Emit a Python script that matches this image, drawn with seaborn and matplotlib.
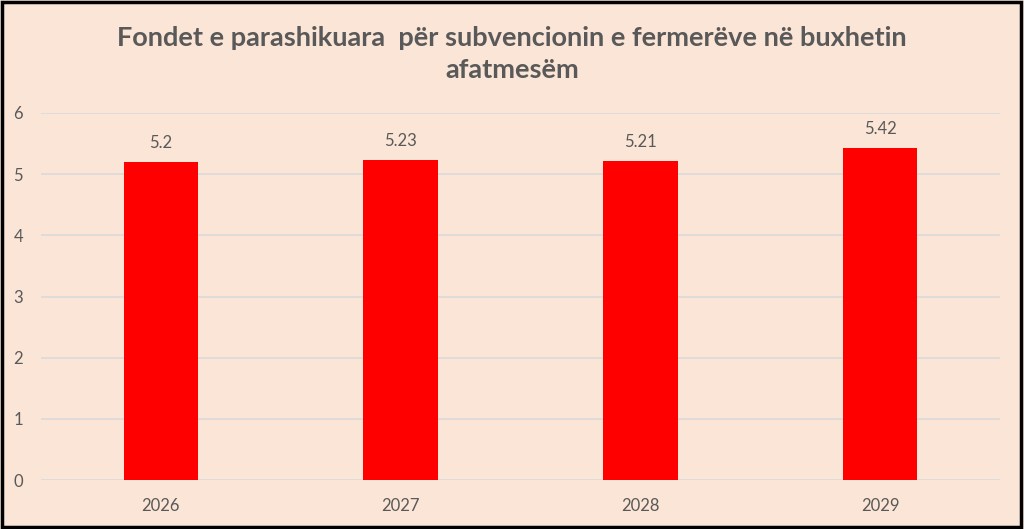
import matplotlib
matplotlib.use("Agg")
import matplotlib.pyplot as plt
import seaborn as sns
import pandas as pd

# data
years = ["2026", "2027", "2028", "2029"]
funds = [5.2, 5.23, 5.21, 5.42]
labels = ["5.2", "5.23", "5.21", "5.42"]

bg = "#FBE5D6"
grey = "#595959"

sns.set_style("white")
plt.rcParams['font.family'] = ['Lato', 'DejaVu Sans']

df = pd.DataFrame({"year": years, "value": funds})

fig = plt.figure(figsize=(10.24, 5.29), dpi=100, facecolor=bg)
ax = fig.add_axes([0.040, 0.0926, 0.9366, 0.6938])
ax.set_facecolor(bg)

sns.barplot(data=df, x="year", y="value", color="#FF0000", width=0.31,
            saturation=1, linewidth=0, ax=ax, zorder=3)

for i, v in enumerate(funds):
    ax.text(i, v + 0.18, labels[i], ha="center", va="bottom",
            fontsize=12, color=grey)

ax.set_ylim(0, 6)
ax.set_xlim(-0.5, 3.5)
ax.set_yticks(range(0, 7))
ax.yaxis.grid(True, color="#D9D9D9", linewidth=1.2, zorder=0)
ax.set_axisbelow(True)
for s in ax.spines.values():
    s.set_visible(False)
ax.tick_params(axis="both", length=0, labelsize=12, labelcolor=grey)
ax.tick_params(axis="x", pad=13)
ax.tick_params(axis="y", pad=13)
ax.set_xlabel("")
ax.set_ylabel("")

fig.text(0.5, 0.897, "Fondet e parashikuara  për subvencionin e fermerëve në buxhetin\nafatmesëm",
         ha="center", va="center", fontsize=19.5, fontweight="bold", color=grey,
         linespacing=1.4)

# black frame round the picture
fig.patches.append(plt.Rectangle((0.0015, 0.003), 0.996, 0.994, transform=fig.transFigure,
                                 fill=False, edgecolor="black", linewidth=2.5))

fig.savefig("out.png", dpi=100, facecolor=bg)
